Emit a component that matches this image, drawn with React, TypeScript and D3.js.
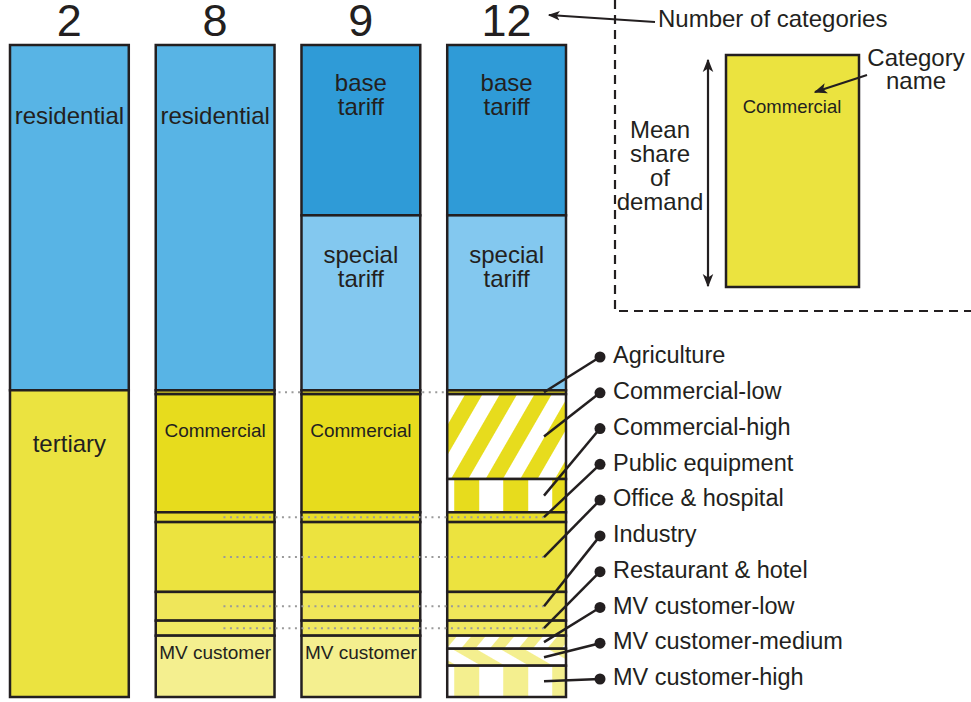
import React from 'react'
import * as d3 from 'd3'

// number of categories per column
const categoryCounts = ['2', '8', '9', '12']

// mean share of demand (%) per column, top to bottom
const names2 = ['residential', 'tertiary']
const shares2 = [52.9, 47.0]

const names8 = ['residential', 'Agriculture', 'Commercial', 'Public equipment', 'Office & hospital', 'Industry', 'Restaurant & hotel', 'MV customer']
const shares8 = [52.9, 0.6, 18.1, 1.5, 10.7, 4.4, 2.3, 9.4]

const names9 = ['base tariff', 'special tariff', 'Agriculture', 'Commercial', 'Public equipment', 'Office & hospital', 'Industry', 'Restaurant & hotel', 'MV customer']
const shares9 = [26.1, 26.8, 0.6, 18.1, 1.5, 10.7, 4.4, 2.3, 9.4]

const names12 = ['base tariff', 'special tariff', 'Agriculture', 'Commercial-low', 'Commercial-high', 'Public equipment', 'Office & hospital', 'Industry', 'Restaurant & hotel', 'MV customer-low', 'MV customer-medium', 'MV customer-high']
const shares12 = [26.1, 26.8, 0.6, 13.0, 5.1, 1.5, 10.7, 4.4, 2.3, 2.0, 2.6, 4.8]

// legend on the right (for the 12-category column)
const legendNames = names12.slice(2)
// categories whose mid line is carried to the other columns with dots
const dottedNames = ['Public equipment', 'Office & hospital', 'Industry', 'Restaurant & hotel']

const fill: Record<string, string> = {
  'residential': '#58b4e5',
  'tertiary': '#ebe340',
  'base tariff': '#2f9bd7',
  'special tariff': '#83c8ef',
  'Agriculture': '#c6bb28',
  'Commercial': '#e7dc1d',
  'Commercial-low': 'url(#hatchComLow)',
  'Commercial-high': 'url(#vertComHigh)',
  'Public equipment': '#e8dd2b',
  'Office & hospital': '#ece33f',
  'Industry': '#efe65a',
  'Restaurant & hotel': '#f0e862',
  'MV customer': '#f4ef8f',
  'MV customer-low': 'url(#hatchMvLow)',
  'MV customer-medium': 'url(#hatchMvMed)',
  'MV customer-high': 'url(#vertMvHigh)'
}

// in-bar labels: lines and offset of first line from the segment top
const inLabels: Record<string, { lines: string[], dy: number, size: number }> = {
  'residential': { lines: ['residential'], dy: 73, size: 24 },
  'tertiary': { lines: ['tertiary'], dy: 56, size: 24 },
  'base tariff': { lines: ['base', 'tariff'], dy: 40, size: 24 },
  'special tariff': { lines: ['special', 'tariff'], dy: 42, size: 24 },
  'Commercial': { lines: ['Commercial'], dy: 38, size: 19 },
  'MV customer': { lines: ['MV customer'], dy: 18, size: 19 }
}

const columns = [
  { names: names2, shares: shares2 },
  { names: names8, shares: shares8 },
  { names: names9, shares: shares9 },
  { names: names12, shares: shares12 }
]

const font = '"Liberation Sans", Arial, Helvetica, sans-serif'
const ink = '#231f20'
const total = d3.max(columns, c => d3.sum(c.shares)) as number

const xScale = d3.scaleBand().domain(categoryCounts).range([10, 566]).paddingInner(0.185)
const yScale = d3.scaleLinear().domain([0, total]).range([45, 697])
const legendY = d3.scalePoint().domain(legendNames).range([357, 679])

// stack each column
const stacked = columns.map((c, i) => {
  let acc = 0
  return c.names.map((name, j) => {
    const y0 = acc
    acc += c.shares[j]
    return { col: categoryCounts[i], name, y0, y1: acc }
  })
})

const mid = (s: { y0: number, y1: number }) => (yScale(s.y0) + yScale(s.y1)) / 2

export default function App () {
  const bw = xScale.bandwidth()
  const x4 = xScale('12') as number
  const x2 = xScale('8') as number
  const x3 = xScale('9') as number
  const leaderX = x4 + bw - 22
  const col12 = stacked[3]

  return (
    <svg width={971} height={702} style={{ position: 'absolute', left: 0, top: 0, fontFamily: font }}>
      <defs>
        <pattern id="hatchComLow" patternUnits="userSpaceOnUse" width={30} height={30} patternTransform="rotate(30)">
          <rect width={30} height={30} fill="#ffffff" />
          <rect width={15} height={30} fill="#e7dc1d" />
        </pattern>
        <pattern id="vertComHigh" patternUnits="userSpaceOnUse" x={x4 + 7} width={49} height={10}>
          <rect width={49} height={10} fill="#ffffff" />
          <rect width={25} height={10} fill="#e7dc1d" />
        </pattern>
        <pattern id="hatchMvLow" patternUnits="userSpaceOnUse" width={22} height={22} patternTransform="rotate(40)">
          <rect width={22} height={22} fill="#ffffff" />
          <rect width={11} height={22} fill="#f2ec86" />
        </pattern>
        <pattern id="hatchMvMed" patternUnits="userSpaceOnUse" width={24} height={24} patternTransform="rotate(-60)">
          <rect width={24} height={24} fill="#ffffff" />
          <rect width={12} height={24} fill="#f4ef8f" />
        </pattern>
        <pattern id="vertMvHigh" patternUnits="userSpaceOnUse" x={x4 + 7} width={49} height={10}>
          <rect width={49} height={10} fill="#ffffff" />
          <rect width={25} height={10} fill="#f4ef8f" />
        </pattern>
        <marker id="arrowHead" viewBox="0 0 10 10" refX={9} refY={5} markerWidth={6} markerHeight={6} orient="auto-start-reverse">
          <path d="M0,1 L10,5 L0,9 L2.5,5 Z" fill={ink} />
        </marker>
      </defs>

      {/* column headers */}
      {categoryCounts.map(c => (
        <text key={c} x={(xScale(c) as number) + bw / 2} y={36} fontSize={45} textAnchor="middle" fill={ink}>{c}</text>
      ))}

      {/* stacked bars */}
      {stacked.map((col, i) => (
        <g key={i}>
          {col.map(s => (
            <rect key={s.name} x={xScale(s.col)} y={yScale(s.y0)} width={bw}
              height={yScale(s.y1) - yScale(s.y0)} fill={fill[s.name]} stroke={ink} strokeWidth={2.5} />
          ))}
          {col.filter(s => inLabels[s.name]).map(s => {
            const lab = inLabels[s.name]
            return (
              <text key={'t' + s.name} x={(xScale(s.col) as number) + bw / 2} y={yScale(s.y0) + lab.dy}
                fontSize={lab.size} textAnchor="middle" dominantBaseline="middle" fill={ink}>
                {lab.lines.map((l, k) => (
                  <tspan key={k} x={(xScale(s.col) as number) + bw / 2} dy={k === 0 ? 0 : lab.size}>{l}</tspan>
                ))}
              </text>
            )
          })}
        </g>
      ))}

      {/* dotted connections across columns */}
      {col12.filter(s => dottedNames.includes(s.name)).map(s => (
        <line key={'d' + s.name} x1={x2 + bw * 0.57} x2={leaderX} y1={mid(s)} y2={mid(s)}
          stroke="#9a9a9a" strokeWidth={2} strokeDasharray="2 4.5" />
      ))}
      {col12.filter(s => s.name === 'Agriculture').map(s => (
        <line key="dAgri" x1={x2 + bw + 4} x2={x3} y1={mid(s)} y2={mid(s)}
          stroke="#9a9a9a" strokeWidth={2} strokeDasharray="2 4.5" />
      ))}
      {col12.filter(s => s.name === 'Agriculture').map(s => (
        <line key="dAgri2" x1={x3 + bw + 2} x2={x4} y1={mid(s)} y2={mid(s)}
          stroke="#9a9a9a" strokeWidth={2} strokeDasharray="2 4.5" />
      ))}

      {/* legend with leaders */}
      {col12.filter(s => legendNames.includes(s.name)).map(s => {
        const ly = legendY(s.name) as number
        return (
          <g key={'l' + s.name}>
            <line x1={leaderX} y1={mid(s)} x2={600} y2={ly} stroke={ink} strokeWidth={2.5} />
            <circle cx={600} cy={ly} r={5.5} fill={ink} />
            <text x={613} y={ly} fontSize={23.5} dominantBaseline="middle" fill={ink}>{s.name}</text>
          </g>
        )
      })}

      {/* explanation box */}
      <line x1={655} y1={22} x2={549} y2={15} stroke={ink} strokeWidth={2} markerEnd="url(#arrowHead)" />
      <text x={658} y={21} fontSize={24} dominantBaseline="middle" fill={ink}>Number of categories</text>
      <path d="M615,0 V311 H971" fill="none" stroke={ink} strokeWidth={2.2} strokeDasharray="9 6" />
      <rect x={726} y={55} width={133} height={232} fill="#ebe33f" stroke={ink} strokeWidth={2.5} />
      <text x={792} y={108} fontSize={18.5} textAnchor="middle" dominantBaseline="middle" fill={ink}>Commercial</text>
      <line x1={708} y1={60} x2={708} y2={286} stroke={ink} strokeWidth={2.2}
        markerStart="url(#arrowHead)" markerEnd="url(#arrowHead)" />
      {['Mean', 'share', 'of', 'demand'].map((w, k) => (
        <text key={w} x={660} y={132 + k * 24} fontSize={24} textAnchor="middle" dominantBaseline="middle" fill={ink}>{w}</text>
      ))}
      <text x={916} y={60} fontSize={24} textAnchor="middle" dominantBaseline="middle" fill={ink}>Category</text>
      <text x={916} y={83} fontSize={24} textAnchor="middle" dominantBaseline="middle" fill={ink}>name</text>
      <line x1={867} y1={75} x2={815} y2={92} stroke={ink} strokeWidth={2.2} markerEnd="url(#arrowHead)" />
    </svg>
  )
}
